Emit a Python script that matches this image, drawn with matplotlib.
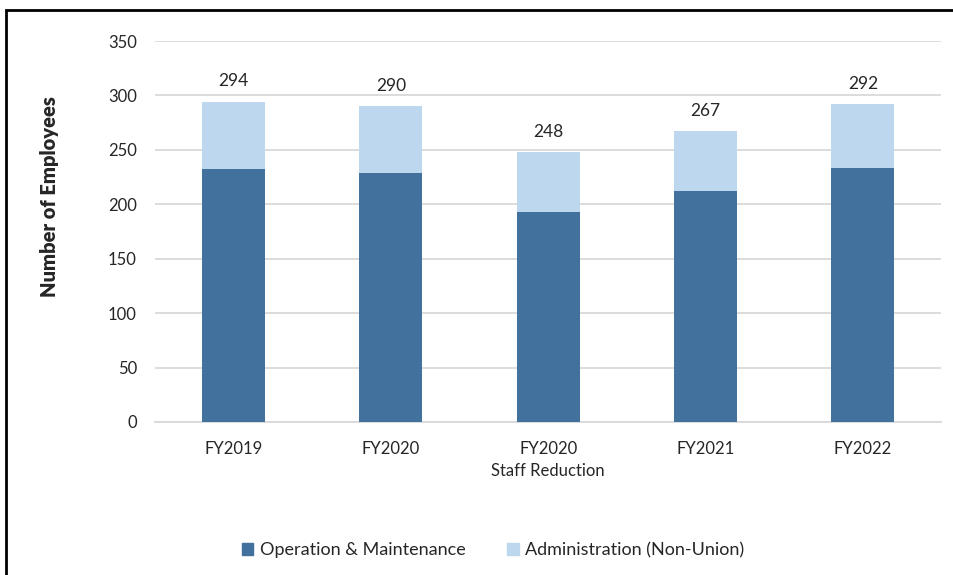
import matplotlib.pyplot as plt
from matplotlib.patches import Rectangle, Patch

plt.rcParams['font.family'] = ['Lato', 'DejaVu Sans']

# Employees by fiscal year
categories = ["FY2019", "FY2020", "FY2020\nStaff Reduction", "FY2021", "FY2022"]
om_staff = [232, 229, 193, 212, 233]
admin_staff = [62, 61, 55, 55, 59]
totals = [294, 290, 248, 267, 292]

dark = "#41719C"
light = "#BDD7EE"

fig = plt.figure(figsize=(9.54, 5.75), dpi=100)
ax = fig.add_axes([155 / 954, 1 - 422 / 575, 786.5 / 954, 381 / 575])

x = range(len(categories))
ax.bar(x, om_staff, width=0.4, color=dark, label="Operation & Maintenance", zorder=3)
ax.bar(x, admin_staff, width=0.4, bottom=om_staff, color=light,
       label="Administration (Non-Union)", zorder=3)

# total labels above bars
for xi, t in zip(x, totals):
    ax.annotate(str(t), (xi, t), xytext=(0, 9), textcoords="offset points",
                ha="center", va="bottom", fontsize=12.5, color="#262626")

ax.set_xlim(-0.5, len(categories) - 0.5)
ax.set_ylim(0, 350)
ax.set_yticks(range(0, 351, 50))
ax.set_xticks(list(x))
ax.set_xticklabels(categories, fontsize=12, color="#262626", linespacing=1.5)
ax.tick_params(axis="y", labelsize=12, colors="#262626", length=0, pad=13)
ax.tick_params(axis="x", length=0, pad=13.5)
ax.yaxis.grid(True, color="#D9D9D9", linewidth=1.3, zorder=0)
for side in ["top", "right", "left"]:
    ax.spines[side].set_visible(False)
ax.spines["bottom"].set_color("#D9D9D9")
ax.spines["bottom"].set_linewidth(1.3)

fig.text(50 / 954, 1 - 197 / 575, "Number of Employees", rotation=90,
         ha="center", va="center", fontsize=14.5, fontweight="heavy", color="#262626")

handles = [Patch(color=dark, label="Operation & Maintenance"),
           Patch(color=light, label="Administration (Non-Union)")]
fig.legend(handles=handles, loc="center", bbox_to_anchor=(493 / 954, 1 - 550 / 575),
           ncol=2, frameon=False, fontsize=13, handlelength=0.65, handleheight=0.65,
           handletextpad=0.35, columnspacing=2.3, labelcolor="#262626")

# outer frame
fig.patches.append(Rectangle((6 / 954, -0.1), 1.2, 1 - 10 / 575 + 0.1,
                             transform=fig.transFigure, fill=False,
                             edgecolor="black", linewidth=2))

fig.savefig("out.png", dpi=100)
